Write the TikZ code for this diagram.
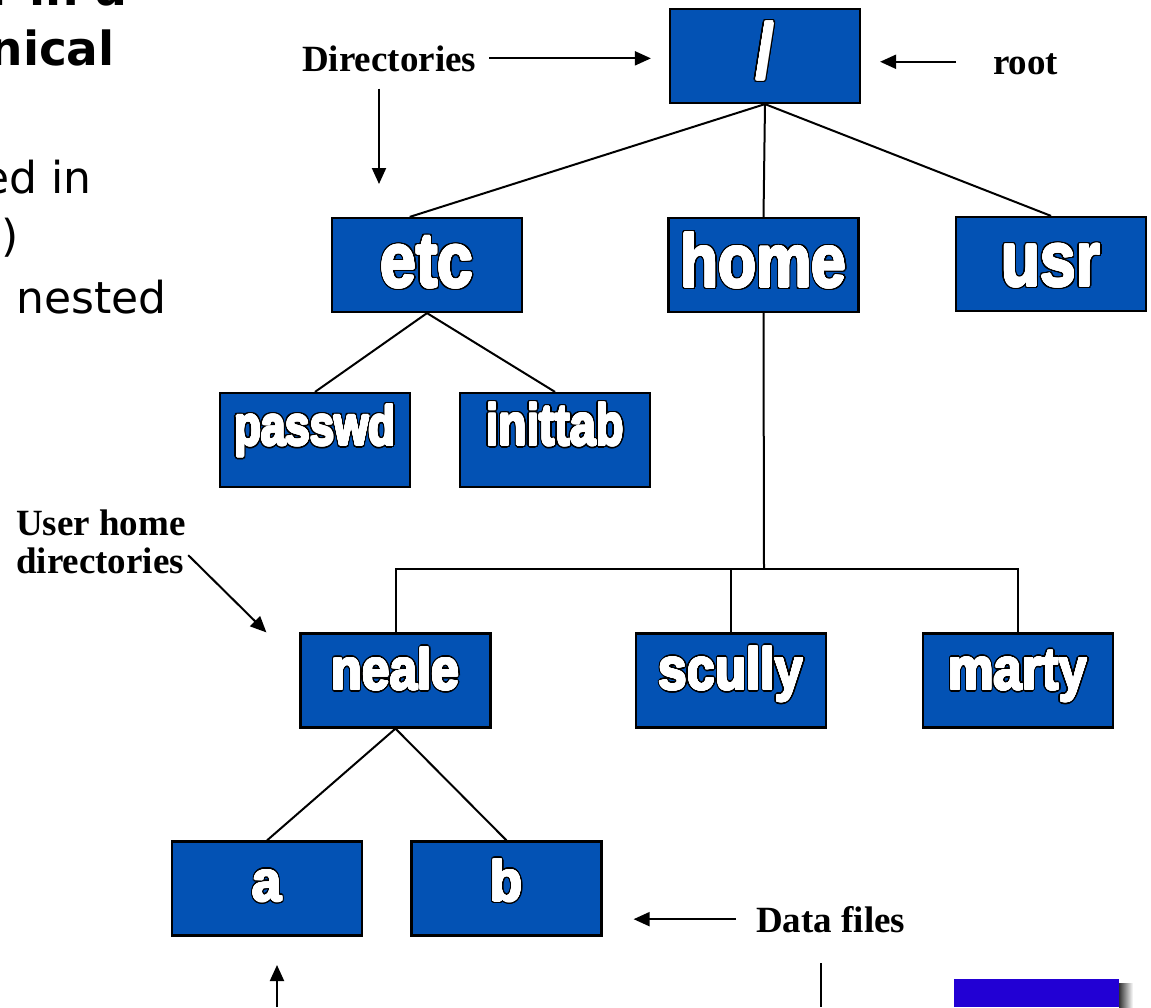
\documentclass[tikz,border=0pt]{standalone}
\usepackage{fontspec}
\setmainfont{Liberation Serif}
\newfontfamily\boxfont{Liberation Sans}
\newfontfamily\slidefont{DejaVu Sans}
\usepackage{graphicx}
\usepackage{contour}
\usetikzlibrary{arrows.meta,calc}
\definecolor{boxblue}{RGB}{3,82,180}
\definecolor{tabblue}{RGB}{34,0,212}
\contournumber{24}
\newcommand{\heavytext}[1]{\leavevmode\rlap{\contourlength{2.4pt}\color{black}\contour{black}{#1}}{\contourlength{0.9pt}\color{white}\contour{white}{#1}}}
\newcommand{\blab}[3]{{\boxfont\bfseries\fontsize{#1}{#1}\selectfont\scalebox{1}[#2]{\heavytext{#3}}}}
\begin{document}
\begin{tikzpicture}[x=1pt,y=-1pt,
  dirbox/.style={draw=black, line width=2.2pt, fill=boxblue, minimum width=190pt, minimum height=94pt, inner sep=0pt, text depth=0pt},
  conn/.style={line width=2pt},
  arr/.style={line width=2pt, -{Triangle[length=16pt,width=14pt]}},
  ann/.style={font=\bfseries\fontsize{37}{40}\selectfont, inner sep=0pt},
  slidetitle/.style={font=\slidefont\bfseries\fontsize{47}{56}\selectfont, inner sep=0pt},
  slidebody/.style={font=\slidefont\fontsize{44}{52}\selectfont, inner sep=0pt}]
\useasboundingbox (0,0) rectangle (1151,1007);

% slide text (cut at left edge)
\node[slidetitle, anchor=base west] (t1) at (-10,5) {r in a};
\node[slidetitle, anchor=base east] (t2) at (115,65) {nical};
\node[slidebody, anchor=base east] (b1) at (92,193) {ed in};
\node[slidebody, anchor=base west] (b2) at (1,251) {)};
\node[slidebody, anchor=base west] (b3) at (16,313) {nested};

% directory boxes
\node[dirbox, text height=44pt] (root) at (765,56) {\blab{64}{1.2}{/}};
\node[dirbox, text height=44pt] (etc) at (427,265) {\blab{64}{1.2}{etc}};
\node[dirbox, text height=44pt] (home) at (763.5,265) {\blab{62}{1.2}{home}};
\node[dirbox, text height=44pt] (usr) at (1051,264) {\blab{64}{1.2}{usr}};
\node[dirbox, text height=10pt] (passwd) at (315,440) {\blab{44}{1.25}{passwd}};
\node[dirbox, text height=10pt] (inittab) at (555,440) {\blab{46}{1.25}{inittab}};
\node[dirbox, text height=18pt] (neale) at (395.5,680.5) {\blab{50}{1.15}{neale}};
\node[dirbox, text height=18pt] (scully) at (731,680.5) {\blab{51}{1.15}{scully}};
\node[dirbox, text height=18pt] (marty) at (1018,680.5) {\blab{51}{1.15}{marty}};
\node[dirbox, text height=25pt] (a) at (267,888.5) {\blab{52}{1.1}{a}};
\node[dirbox, text height=25pt] (b) at (506.5,888.5) {\blab{52}{1.1}{b}};

% tree connectors
\draw[conn] (root.south) -- ($(etc.north west)!0.41!(etc.north east)$);
\draw[conn] (root.south) -- (home.north);
\draw[conn] (root.south) -- (usr.north);
\draw[conn] (etc.south) -- (passwd.north);
\draw[conn] (etc.south) -- (inittab.north);
\coordinate (bus) at (764,569);
\draw[conn] (home.south) -- (bus);
\draw[conn] (neale.north) |- (bus) -| (marty.north);
\draw[conn] (scully.north) -- (scully.north |- bus);
\draw[conn] (neale.south) -- (a.north);
\draw[conn] (neale.south) -- (b.north);

% annotations
\node[ann, anchor=base west] (dirs) at (302,71) {Directories};
\draw[arr] ($(dirs.east)+(13,0)$) -- ($(dirs.east -| root.west)+(-18,0)$);
\coordinate (dtip) at (379,184);
\draw[arr] ($(dirs.south -| dtip)+(0,17)$) -- (dtip);

\node[ann, anchor=base west] (rootlbl) at (993,74) {root};
\draw[arr] ($(rootlbl.west)+(-37,-2)$) -- ($(rootlbl.west -| root.east)+(19,-2)$);

\node[ann, anchor=base west] (datalbl) at (756,932) {Data files};
\draw[arr] ($(datalbl.west)+(-20,0)$) -- ($(datalbl.west -| b.east)+(31,0)$);

\node[ann, anchor=base west] (uh1) at (16,535) {User home};
\node[ann, anchor=base west] (uh2) at (16,573) {directories};
\draw[arr] ($(uh2.north east)+(4,8)$) -- ($(neale.north west)+(-33,0)$);

\coordinate (up1) at (277,1007);
\coordinate (up2) at (277,965);
\draw[arr] (up1) -- (up2);
\coordinate (v1) at (821,963);
\coordinate (v2) at (821,1007);
\draw[conn] (v1) -- (v2);

% bottom-right tab with shadow
\shade[left color=black!80, right color=white] (1119,983) rectangle (1133,1007);
\fill[tabblue] (954,979) rectangle (1119,1007);
\end{tikzpicture}
\end{document}
